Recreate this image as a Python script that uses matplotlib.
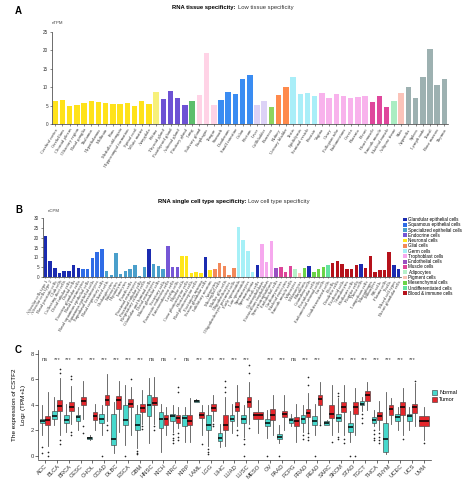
import numpy as np
import matplotlib.pyplot as plt
from matplotlib.patches import Patch

plt.rcParams['font.family'] = ['Liberation Sans', 'DejaVu Sans']

# ---------------- panel A: RNA tissue specificity ----------------
tissues = ["Cerebral cortex", "Cerebellum", "Choroid plexus", "Olfactory region",
           "Basal ganglia", "Thalamus", "Hypothalamus", "Midbrain", "Pons",
           "Medulla oblongata", "Hippocampal formation", "Spinal cord",
           "White matter", "Amygdala", "Retina",
           "Thyroid gland", "Parathyroid gland", "Adrenal gland", "Pituitary gland",
           "Lung", "Salivary gland", "Esophagus", "Tongue",
           "Stomach", "Duodenum", "Small intestine", "Colon", "Rectum",
           "Liver", "Gallbladder", "Pancreas", "Kidney", "Urinary bladder",
           "Testis", "Epididymis", "Seminal vesicle", "Prostate",
           "Vagina", "Ovary", "Fallopian tube", "Endometrium", "Cervix",
           "Placenta", "Breast", "Heart muscle", "Smooth muscle",
           "Skeletal muscle", "Adipose tissue", "Skin",
           "Appendix", "Spleen", "Lymph node", "Tonsil", "Bone marrow", "Thymus"]
tissue_ntpm = [6.2, 6.6, 5.0, 5.1, 5.8, 6.2, 6.0, 5.6, 5.5, 5.4, 5.8, 4.9, 6.1, 5.3, 8.6,
               6.7, 8.9, 7.1, 5.2,
               6.3, 7.9, 19.3, 5.1,
               6.5, 8.6, 8.2, 12.1, 13.2,
               5.2, 6.3, 4.7, 7.9, 10.1,
               12.7, 8.1, 8.4, 7.6,
               8.3, 7.1, 8.1, 7.5, 7.0, 7.3, 7.7,
               6.0, 7.7, 4.5, 6.1, 8.4,
               10.0, 7.0, 12.6, 20.2, 10.6, 12.2]
# tissue groups (colour, number of bars)
tissue_groups = [("#FFE21A", 14), ("#F7F07A", 1), ("#6D52D4", 4), ("#5DBE6C", 1),
                 ("#FFD3E6", 3), ("#3A8CF2", 5), ("#DCD2F6", 2), ("#8ED45E", 1),
                 ("#FF8A4C", 2), ("#A9EEF8", 4), ("#F8B2EC", 7), ("#DF479C", 3),
                 ("#AAEDC2", 1), ("#FBC3B9", 1), ("#9DB1B1", 6)]

# ---------------- panel B: RNA single cell type specificity ----------------
cell_types = ["Alveolar cells type 1", "Alveolar cells type 2", "Basal prostatic cells",
              "Club cells", "Collecting duct cells", "Distal tubular cells", "Ductal cells",
              "Exocrine glandular cells", "Basal keratinocytes",
              "Basal squamous epithelial cells", "Squamous epithelial cells",
              "Suprabasal keratinocytes", "Basal respiratory cells", "Ciliated cells",
              "Cholangiocytes", "Enterocytes", "Hepatocytes", "Ionocytes", "Paneth cells",
              "Proximal enterocytes", "Proximal tubular cells", "Respiratory ciliated cells",
              "Glandular and luminal cells", "Distal enterocytes", "Mucus glandular cells",
              "Secretory cells", "Pancreatic endocrine cells", "Enteroendocrine cells",
              "Leydig cells", "Bipolar cells", "Cone photoreceptor cells", "Horizontal cells",
              "Rod photoreceptor cells", "Excitatory neurons", "Serous glandular cells",
              "Inhibitory neurons", "Astrocytes", "Microglial cells", "Muller glia cells",
              "Oligodendrocytes", "Oligodendrocyte precursor cells", "Early spermatids",
              "Late spermatids", "Spermatocytes", "Spermatogonia", "Sertoli cells",
              "Cytotrophoblasts", "Extravillous trophoblasts", "Syncytiotrophoblasts",
              "Endothelial cells", "Cardiomyocytes", "Skeletal myocytes",
              "Smooth muscle cells", "Adipocytes", "Melanocytes", "Fibroblasts",
              "Granulosa cells", "Peritubular cells", "Endometrial stromal cells",
              "Ito cells", "Undifferentiated cells", "B-cells", "Dendritic cells",
              "Erythroid cells", "Granulocytes", "Hofbauer cells", "Kupffer cells",
              "Theca cells", "Langerhans cells", "Macrophages", "Monocytes", "NK-cells",
              "Plasma cells", "T-cells", "Mixed cell types", "Breast glandular cells"]
cell_ncpm = [20.7, 8.2, 4.4, 2.1, 2.9, 2.9, 6.2, 4.3, 4.1, 4.1,
             9.4, 12.8, 14.4, 3.1, 0.9, 12.3, 1.4, 2.7, 3.9, 5.8,
             0.3, 5.0, 14.0, 6.5, 5.5, 3.9, 15.6, 4.8, 5.0, 10.4,
             10.6, 1.9, 2.6, 2.1, 9.9, 3.4, 3.9, 7.0, 5.5, 0.9,
             4.4, 25.6, 18.8, 13.3, 2.2, 6.2, 16.6, 7.7, 18.5, 4.6,
             5.0, 2.6, 5.6, 4.1, 1.7, 4.3, 5.5, 2.6, 3.9, 5.0,
             6.2, 6.8, 8.0, 6.3, 4.1, 4.1, 5.8, 6.5, 4.3, 10.8,
             2.4, 3.6, 3.6, 12.6, 5.8, 3.8]
cell_group_names = ["Glandular epithelial cells", "Squamous epithelial cells",
                    "Specialized epithelial cells", "Endocrine cells", "Neuronal cells",
                    "Glial cells", "Germ cells", "Trophoblast cells", "Endothelial cells",
                    "Muscle cells", "Adipocytes", "Pigment cells", "Mesenchymal cells",
                    "Undifferentiated cells", "Blood & immune cells"]
cell_group_colors = ["#1B2BB0", "#2F6CE6", "#4A9FCB", "#7657D6", "#FFE61A",
                     "#F2895A", "#A6F0F7", "#F6A8EE", "#9A4FC2", "#DD4599",
                     "#B5F0C8", "#FBC4B6", "#6BD448", "#63E3A0", "#B5121B"]
# run lengths of group index along the bars
cell_runs = [(0, 8), (1, 5), (2, 9), (0, 1), (2, 3), (3, 3), (4, 5), (0, 1), (4, 1),
             (5, 5), (6, 4), (0, 1), (7, 3), (8, 1), (9, 3), (10, 1), (11, 1), (12, 1),
             (0, 1), (12, 3), (13, 1), (14, 6), (0, 1), (14, 6), (0, 2)]

# ---------------- panel C: CSTF2 expression, TCGA ----------------
cancers = ["ACC", "BLCA", "BRCA", "CESC", "CHOL", "COAD", "DLBC", "ESCA", "GBM", "HNSC",
           "KICH", "KIRC", "KIRP", "LAML", "LGG", "LIHC", "LUAD", "LUSC", "MESO", "OV",
           "PAAD", "PCPG", "PRAD", "READ", "SARC", "SKCM", "STAD", "TGCT", "THCA", "THYM",
           "UCEC", "UCS", "UVM"]
signif = ["ns", "***", "***", "***", "***", "***", "***", "***", "***", "ns",
          "ns", "*", "ns", "***", "***", "***", "***", "***", "", "***",
          "***", "ns", "***", "***", "", "***", "***", "***", "***", "***",
          "***", "***", ""]
# (whisker low, q1, median, q3, whisker high)
normal_stats = [(1.6, 2.55, 2.7, 2.9, 4.0), (2.4, 2.9, 3.1, 3.5, 4.6), (1.9, 2.55, 2.8, 3.2, 4.1),
                (2.0, 2.7, 3.05, 3.2, 3.8), (1.25, 1.3, 1.4, 1.5, 1.6), (1.6, 2.6, 2.85, 3.3, 4.0),
                (0.2, 0.85, 1.3, 3.3, 4.2), (0.85, 2.4, 2.8, 4.0, 5.6), (0.6, 2.0, 2.4, 3.3, 4.0),
                (1.0, 3.1, 3.95, 4.8, 6.1), (0.3, 2.15, 2.9, 3.45, 4.1), (1.9, 2.7, 3.15, 3.3, 4.0),
                (1.1, 2.3, 2.95, 3.2, 3.8), (4.2, 4.25, 4.33, 4.4, 4.45), (0.8, 2.0, 2.4, 3.2, 4.0),
                (0.7, 1.15, 1.4, 1.75, 2.5), (1.75, 2.7, 2.9, 3.2, 4.1), (1.5, 2.55, 2.85, 3.2, 4.0),
                None, (1.4, 2.35, 2.6, 2.9, 3.6), (1.0, 1.3, 1.5, 1.7, 2.4),
                (2.3, 2.6, 2.8, 3.0, 3.3), (1.9, 2.55, 2.9, 3.2, 4.0), (1.6, 2.45, 2.75, 3.1, 4.1),
                (2.4, 2.45, 2.6, 2.7, 2.8), (1.9, 2.7, 3.0, 3.3, 4.5), (1.1, 1.9, 2.25, 2.6, 3.5),
                (3.5, 3.95, 4.05, 4.3, 4.6), (2.3, 2.6, 2.8, 3.05, 3.6), (0.1, 0.3, 1.3, 2.6, 5.0),
                (2.0, 2.7, 3.05, 3.3, 3.8), (2.0, 2.7, 3.1, 3.3, 3.8), None]
tumor_stats = [(0.8, 2.45, 2.8, 3.1, 5.0), (1.6, 3.5, 3.9, 4.4, 6.1), (2.5, 3.5, 3.85, 4.25, 5.5),
               (2.9, 3.95, 4.3, 4.65, 5.9), (2.0, 2.8, 3.1, 3.45, 4.1), (2.7, 4.0, 4.35, 4.8, 6.4),
               (1.9, 3.7, 4.35, 4.7, 5.9), (1.6, 3.8, 4.1, 4.45, 5.4), (2.5, 3.4, 3.75, 4.1, 5.2),
               (2.5, 3.95, 4.15, 4.65, 6.2), (1.6, 2.4, 2.9, 3.2, 3.8), (2.2, 2.55, 2.95, 3.2, 3.8),
               (1.1, 2.4, 2.75, 3.2, 4.5), (1.6, 2.95, 3.2, 3.4, 4.0), (2.7, 3.5, 3.75, 4.1, 4.8),
               (0.8, 2.0, 2.45, 3.2, 4.6), (2.3, 3.5, 3.8, 4.25, 5.6), (2.5, 3.85, 4.2, 4.65, 5.8),
               (1.75, 2.9, 3.2, 3.4, 4.4), (1.6, 2.8, 3.2, 3.65, 4.8), (2.0, 3.05, 3.3, 3.5, 4.8),
               (1.1, 2.3, 2.75, 3.05, 4.1), (1.9, 3.05, 3.35, 3.65, 4.9), (2.5, 4.0, 4.45, 4.8, 5.8),
               (1.6, 2.95, 3.3, 4.0, 5.6), (1.6, 3.4, 3.85, 4.2, 5.6), (1.6, 3.25, 3.85, 4.25, 5.3),
               (3.6, 4.3, 4.75, 5.1, 5.8), (2.0, 2.8, 3.15, 3.45, 4.3), (2.5, 3.2, 3.7, 4.0, 4.5),
               (1.6, 3.2, 3.8, 4.25, 5.3), (2.3, 3.35, 3.8, 4.05, 5.7), (1.2, 2.35, 2.7, 3.15, 3.8)]
normal_fliers = {"ACC": [0.7, 0.2], "COAD": [0.0], "ESCA": [0.0], "GBM": [0.4, 0.2, 0.1],
                 "KIRC": [1.7, 1.4, 1.2, 1.0], "LGG": [0.5, 0.3, 0.1], "LUSC": [1.3, 0.9, 0.0],
                 "OV": [0.0], "PAAD": [0.0], "READ": [0.0], "SKCM": [4.7, 4.9, 1.5, 1.3],
                 "STAD": [0.0], "TGCT": [3.3, 3.0, 2.6], "THCA": [2.0, 1.7, 1.4, 1.2],
                 "PRAD": [1.6, 1.3], "THYM": []}
tumor_fliers = {"ACC": [0.3, 0.0], "BLCA": [6.5, 6.8, 1.2, 0.9], "BRCA": [6.0, 6.3, 1.9, 1.6],
                "CESC": [2.3, 1.8], "COAD": [2.4, 2.0], "ESCA": [6.0], "GBM": [2.3, 2.1],
                "HNSC": [2.3, 2.0], "KIRC": [5.4, 5.0, 1.8, 1.5, 1.2], "LAML": [0.9],
                "LGG": [2.5, 2.3], "LIHC": [5.0, 5.4, 5.9], "LUAD": [2.0, 1.6],
                "LUSC": [6.5, 7.1, 2.2], "PRAD": [5.6, 6.2, 1.8, 1.5, 1.2], "READ": [2.4],
                "SARC": [1.1], "SKCM": [1.3, 1.0], "STAD": [0.0], "THCA": [1.8, 1.5, 1.2, 1.0],
                "UCEC": [1.3], "UCS": [5.9], "UVM": [1.0]}

# ================= figure =================
W, H = 474, 488
fig = plt.figure(figsize=(W / 100, H / 100), dpi=100)


def px_box(l, t, r, b):
    return [l / W, 1 - b / H, (r - l) / W, (b - t) / H]


def style_axes(ax, fs):
    for s in ['top', 'right']:
        ax.spines[s].set_visible(False)
    for s in ['left', 'bottom']:
        ax.spines[s].set_linewidth(0.5)
        ax.spines[s].set_color('#333333')
    ax.tick_params(width=0.4, length=1.8, pad=1, labelsize=fs, colors='#333333')


# ---- A ----
axA = fig.add_axes(px_box(52, 31.7, 448, 124))
colA = []
for c, n in tissue_groups:
    colA += [c] * n
xA = np.arange(len(tissues))
axA.bar(xA, tissue_ntpm, width=0.76, color=colA)
axA.set_xlim(-0.45, len(tissues) - 0.5)
axA.set_ylim(0, 25)
axA.set_yticks([0, 5, 10, 15, 20, 25])
axA.set_xticks(xA)
axA.set_xticklabels(tissues, rotation=58, ha='right', va='top', rotation_mode='anchor',
                    fontsize=4.9, family='Liberation Serif')
style_axes(axA, 3.3)
axA.tick_params(axis='x', length=1.2, pad=1.5)
fig.text(52 / W, 1 - 22.5 / H, "nTPM", fontsize=3.2, color='#444444', va='center')
fig.text(236 / W, 1 - 8 / H, "RNA tissue specificity:", fontsize=4.2, fontweight='bold',
         ha='right', va='center')
fig.text(237.5 / W, 1 - 8 / H, "Low tissue specificity", fontsize=4.2, ha='left', va='center',
         color='#333333')
fig.text(15 / W, 1 - 11 / H, "A", fontsize=7, fontweight='bold', va='center')

# ---- B ----
axB = fig.add_axes(px_box(43, 218.3, 401, 276.7))
colB = []
for g, n in cell_runs:
    colB += [cell_group_colors[g]] * n
xB = np.arange(len(cell_types))
axB.bar(xB, cell_ncpm, width=0.74, color=colB)
axB.set_xlim(-0.5, len(cell_types) - 0.5)
axB.set_ylim(0, 30)
axB.set_yticks([0, 5, 10, 15, 20, 25, 30])
axB.set_xticks(xB)
axB.set_xticklabels(cell_types, rotation=60, ha='right', va='top', rotation_mode='anchor',
                    fontsize=3.0, family='Liberation Serif')
style_axes(axB, 3.3)
axB.tick_params(axis='x', length=1.0, pad=1.2)
fig.text(48 / W, 1 - 210.7 / H, "nCPM", fontsize=3.2, color='#444444', va='center')
fig.text(247 / W, 1 - 201 / H, "RNA single cell type specificity:", fontsize=4.2,
         fontweight='bold', ha='right', va='center')
fig.text(248.5 / W, 1 - 201 / H, "Low cell type specificity", fontsize=4.2, ha='left',
         va='center', color='#333333')
fig.text(15 / W, 1 - 210 / H, "B", fontsize=7, fontweight='bold', va='center')
handlesB = [Patch(facecolor=c, edgecolor='none', label=l)
            for c, l in zip(cell_group_colors, cell_group_names)]
fig.legend(handles=handlesB, loc='upper left', bbox_to_anchor=(403 / W, 1 - 217 / H),
           frameon=False, fontsize=3.3, handlelength=0.9, handleheight=0.9,
           handletextpad=0.3, labelspacing=0.06, borderaxespad=0, borderpad=0)

# ---- C ----
axC = fig.add_axes(px_box(38, 350.2, 431, 459.5))
norm_col = '#46D8CC'
tum_col = '#E5262B'


def make_stats(st, fl):
    lo, q1, med, q3, hi = st
    return dict(whislo=lo, q1=q1, med=med, q3=q3, whishi=hi, fliers=fl)


n_list, n_pos, n_w = [], [], []
t_list, t_pos, t_w = [], [], []
for i, c in enumerate(cancers):
    ns = normal_stats[i]
    ts = tumor_stats[i]
    if ns is not None:
        n_list.append(make_stats(ns, normal_fliers.get(c, [])))
        n_pos.append(i - 0.22)
        n_w.append(0.4)
        t_pos.append(i + 0.22)
        t_w.append(0.4)
    else:
        t_pos.append(i)
        t_w.append(0.8)
    t_list.append(make_stats(ts, tumor_fliers.get(c, [])))

common = dict(patch_artist=True, showcaps=False,
              medianprops=dict(color='black', linewidth=1.1),
              whiskerprops=dict(color='#555555', linewidth=0.6),
              flierprops=dict(marker='o', markersize=1.2, markerfacecolor='#222222',
                              markeredgecolor='none'))
axC.bxp(n_list, positions=n_pos, widths=n_w,
        boxprops=dict(facecolor=norm_col, edgecolor='#333333', linewidth=0.4), **common)
axC.bxp(t_list, positions=t_pos, widths=t_w,
        boxprops=dict(facecolor=tum_col, edgecolor='#333333', linewidth=0.4), **common)
for i, s in enumerate(signif):
    if s:
        axC.text(i, 7.55, s, ha='center', va='center', fontsize=4.2, color='#444444')
axC.set_xlim(-0.6, len(cancers) - 0.4)
axC.set_ylim(-0.3, 8.3)
axC.set_yticks([0, 2, 4, 6, 8])
axC.set_xticks(np.arange(len(cancers)))
axC.set_xticklabels(cancers, rotation=45, ha='right', va='top', rotation_mode='anchor')
style_axes(axC, 4.2)
axC.tick_params(length=2, width=0.5)
axC.set_ylabel("The expression of CSTF2\nLog$_2$ (TPM+1)", fontsize=4.6, labelpad=2,
               linespacing=1.3)
fig.text(15 / W, 1 - 350 / H, "C", fontsize=7, fontweight='bold', va='center')
handlesC = [Patch(facecolor=norm_col, edgecolor='#333333', linewidth=0.4, label='Normal'),
            Patch(facecolor=tum_col, edgecolor='#333333', linewidth=0.4, label='Tumor')]
fig.legend(handles=handlesC, loc='upper left', bbox_to_anchor=(432 / W, 1 - 390 / H),
           frameon=False, fontsize=4, handlelength=0.9, handleheight=0.9,
           handletextpad=0.4, labelspacing=0.3, borderaxespad=0, borderpad=0)

fig.savefig("out.png", dpi=100)
